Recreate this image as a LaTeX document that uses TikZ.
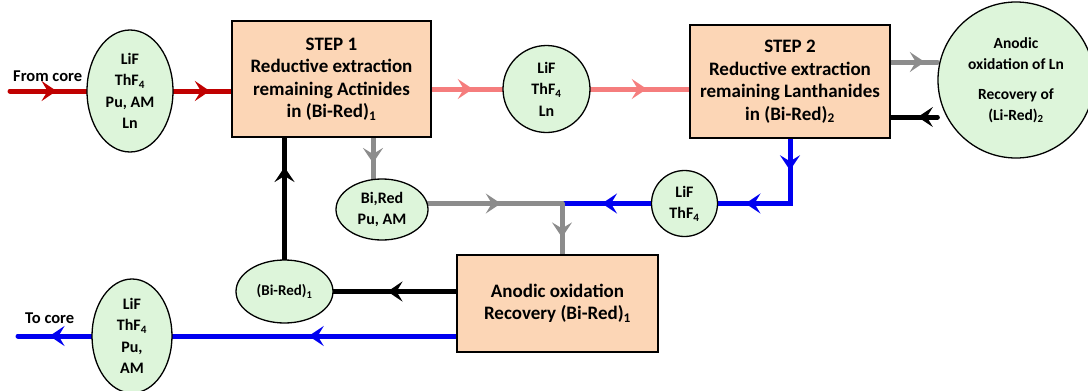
\documentclass[tikz,border=0pt]{standalone}
\usepackage{fontspec}
\setmainfont{Carlito}
\usetikzlibrary{shapes.geometric,arrows.meta,decorations.markings,backgrounds}

\definecolor{flowred}{RGB}{192,0,0}
\definecolor{flowpink}{RGB}{245,125,125}
\definecolor{flowgray}{RGB}{140,140,140}
\definecolor{flowblue}{RGB}{0,0,240}
\definecolor{boxfill}{RGB}{252,214,182}
\definecolor{streamfill}{RGB}{221,245,218}

\tikzset{
  Flow/.tip={Stealth[length=15pt,width=20pt,inset=6pt]},
  stage/.style={draw=black, line width=1.8pt, fill=boxfill, inner sep=0pt,
    align=center, font=\fontsize{19}{22.5}\selectfont\bfseries},
  stream/.style={ellipse, draw=black, line width=1.3pt, fill=streamfill,
    inner sep=0pt, align=center, font=\fontsize{16}{21.5}\selectfont\bfseries},
  pool/.style={circle, draw=black, line width=1.3pt, fill=streamfill,
    inner sep=0pt, align=center, font=\fontsize{16}{21.5}\selectfont\bfseries},
  flow/.style={line width=5pt, line cap=round},
  midtip/.style={postaction={decorate, decoration={markings,
    mark=at position #1 with {\arrow{Flow}}}}},
  twotips/.style 2 args={postaction={decorate, decoration={markings,
    mark=at position #1 with {\arrow{Flow}},
    mark=at position #2 with {\arrow{Flow}}}}},
  tag/.style={inner sep=0pt, font=\fontsize{16.5}{20}\selectfont\bfseries}
}

\begin{document}
\begin{tikzpicture}[x=1pt,y=-1pt]
\useasboundingbox (0,0) rectangle (1088,391);

% process stages
\node[stage, minimum width=199pt, minimum height=116pt] (step1) at (331.5,79)
  {STEP 1\\Reductive extraction\\remaining Actinides\\in (Bi-Red)\textsubscript{1}};
\node[stage, minimum width=200pt, minimum height=113pt] (step2) at (790,81.5)
  {STEP 2\\Reductive extraction\\remaining Lanthanides\\in (Bi-Red)\textsubscript{2}};
\node[stage, minimum width=201pt, minimum height=97pt] (anode) at (557.5,303.5)
  {Anodic oxidation\\Recovery (Bi-Red)\textsubscript{1}};

% salt and metal streams
\node[stream, minimum width=86pt, minimum height=122pt] (inflow) at (130,91)
  {LiF\\ThF\textsubscript{4}\\Pu, AM\\Ln};
\node[pool, minimum size=87pt] (midring) at (546.5,89)
  {LiF\\ThF\textsubscript{4}\\Ln};
\node[pool, minimum size=156pt, font=\fontsize{15.5}{20.5}\selectfont\bfseries] (ring) at (1016,80)
  {Anodic\\oxidation of Ln\\[10pt]Recovery of\\(Li-Red)\textsubscript{2}};
\node[pool, minimum size=66pt] (lithf) at (684.5,203.5)
  {LiF\\ThF\textsubscript{4}};
\node[stream, minimum width=92pt, minimum height=61pt] (bired) at (382,209.5)
  {Bi,Red\\Pu, AM};
\node[stream, minimum width=97pt, minimum height=63pt, font=\fontsize{15}{20}\selectfont\bfseries] (bired1) at (284.5,291.5)
  {(Bi-Red)\textsubscript{1}};
\node[stream, minimum width=80pt, minimum height=114pt] (outflow) at (132,336)
  {LiF\\ThF\textsubscript{4}\\Pu,\\AM};

% labels of the free ends
\node[tag, anchor=base west] (fromlbl) at (13,81) {From core};
\node[tag, anchor=base west] (tolbl) at (25,323) {To core};

% loose ends and branch points
\coordinate (corein) at (10,91);
\coordinate (coreout) at (18,336);
\coordinate (join) at (562,203.5);
\coordinate (tapx) at (373,0);
\coordinate (upper) at (0,62);
\coordinate (lower) at (0,117);

\begin{pgfonlayer}{background}
  % feed salt
  \draw[flow, flowred, midtip=0.61] (corein) -- (inflow.west);
  \draw[flow, flowred, midtip=0.63] (inflow.east) -- (inflow.east -| step1.west);
  % salt between the two stages
  \draw[flow, flowpink, midtip=0.58] (midring.west -| step1.east) -- (midring.west);
  \draw[flow, flowpink, midtip=0.57] (midring.east) -- (midring.east -| step2.west);
  % lanthanide loop
  \draw[flow, flowgray, midtip=0.73] (step2.east |- upper) -- (ring.west |- upper);
  \draw[flow, black, midtip=0.42] (ring.west |- lower) -- (step2.east |- lower);
  % cleaned salt back towards the anode
  \draw[flow, flowblue, twotips={0.23}{0.80}] (step2.south) |- (lithf.east);
  \draw[flow, flowblue, midtip=0.55] (lithf.west) -- (join);
  % metal phase from step 1
  \draw[flow, flowgray, midtip=0.62] (step1.south -| tapx) -- (bired.north -| tapx);
  \draw[flow, flowgray, midtip=0.66] (bired.center |- join) -- (join);
  \draw[flow, flowgray, midtip=0.67] (join) -- (join |- anode.north);
  % recycled metal
  \draw[flow, black, midtip=0.56] (bired1.east -| anode.west) -- (bired1.east);
  \draw[flow, black, midtip=0.76] (bired1.north) -- (bired1.north |- step1.south);
  % return salt
  \draw[flow, flowblue, midtip=0.52] (outflow.east -| anode.west) -- (outflow.east);
  \draw[flow, flowblue, midtip=0.57] (outflow.west) -- (coreout);
\end{pgfonlayer}
\end{tikzpicture}
\end{document}
